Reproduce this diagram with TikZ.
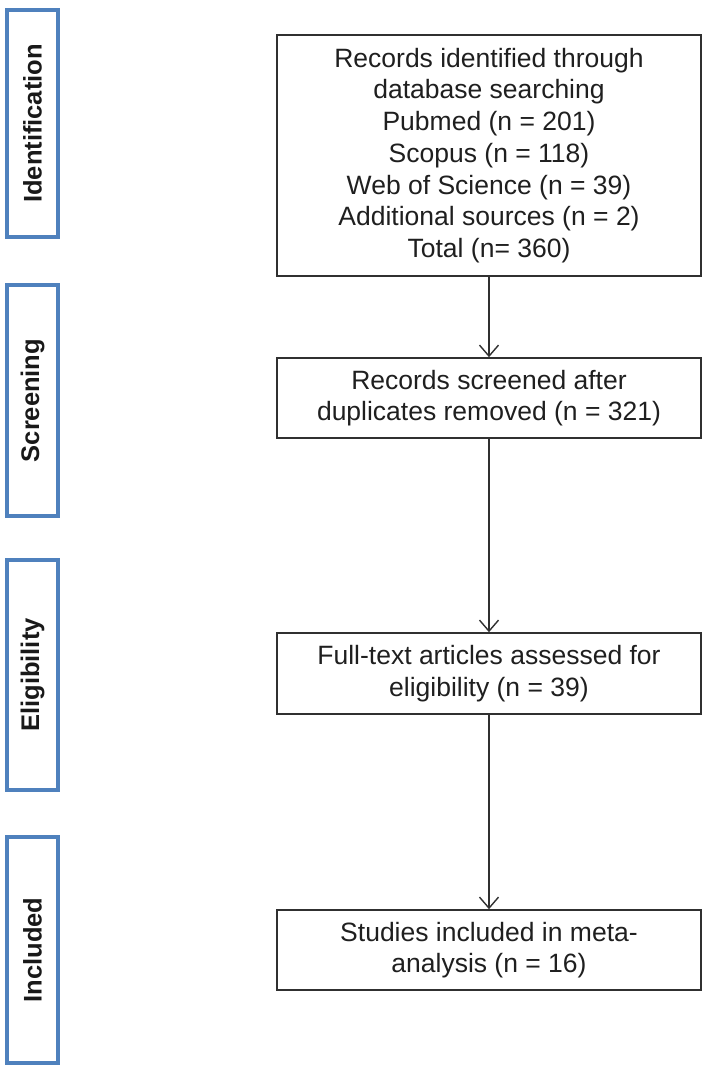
\documentclass[tikz,border=0pt]{standalone}
\usepackage{fontspec}
\setmainfont{Liberation Sans}
\usetikzlibrary{arrows.meta, positioning}
\definecolor{phaseblue}{HTML}{4F81BD}
\definecolor{boxgray}{HTML}{303030}

\begin{document}
\begin{tikzpicture}[x=1pt, y=-1pt,
            phase/.style={draw=phaseblue, line width=4pt, fill=white, rotate=90, minimum height=51pt, inner sep=0pt, text=black!90, font=\fontsize{25.5}{30}\selectfont\bfseries},
            stage/.style={draw=boxgray, line width=1.6pt, minimum width=424pt, inner sep=0pt, align=center, text=black!88, font=\fontsize{26.5}{31.7}\selectfont},
            flow/.style={draw=boxgray, line width=1.4pt, -{Straight Barb[length=11pt, width=19pt, line width=1.4pt]}}]
        \useasboundingbox (0,0) rectangle (710,1076);
        % phases on the left
        \node[phase, minimum width=227pt] (ident) at (32.5,123.5) {Identification};
        \node[phase, minimum width=231pt] (screen) at (32.5,400.5) {Screening};
        \node[phase, minimum width=230pt] (elig) at (32.5,675) {Eligibility};
        \node[phase, minimum width=226pt] (incl) at (32.5,950) {Included};
        % flow boxes
        \node[stage, minimum height=241pt] (found) at (489,155.5) {Records identified through\\ database searching\\ Pubmed (n = 201)\\ Scopus (n = 118)\\ Web of Science (n = 39)\\ Additional sources (n = 2)\\ Total (n= 360)};
        \node[stage, minimum height=80pt] (screened) at (489,398) {Records screened after\\ duplicates removed (n = 321)};
        \node[stage, minimum height=81pt] (assessed) at (489,673.5) {Full-text articles assessed for\\ eligibility (n = 39)};
        \node[stage, minimum height=80pt] (included) at (489,950) {Studies included in meta-\\ analysis (n = 16)};
        \draw[flow] (found) -- (screened);
        \draw[flow] (screened) -- (assessed);
        \draw[flow] (assessed) -- (included);
    \end{tikzpicture}
\end{document}
